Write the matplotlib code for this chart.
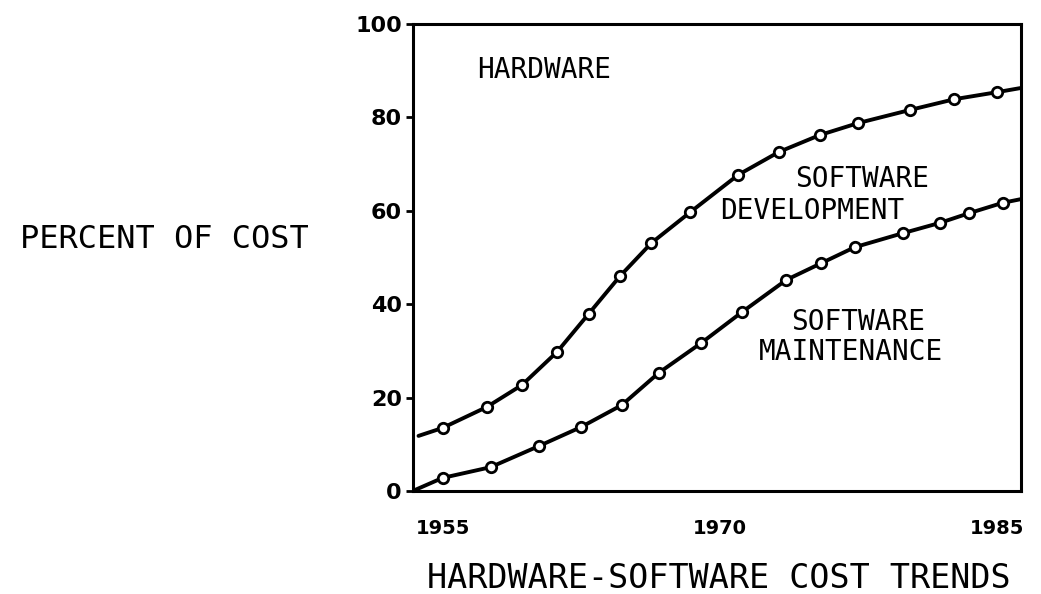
import matplotlib
matplotlib.use('Agg')
import matplotlib.pyplot as plt
import numpy as np

# values
dev_years = [1953.7, 1955.0, 1957.4, 1959.3, 1961.2, 1962.9, 1964.6, 1966.3, 1968.4,
             1971.0, 1973.2, 1975.4, 1977.5, 1980.3, 1982.7, 1985.0, 1986.3]
dev_pct = [11.8, 13.5, 18.0, 22.7, 29.8, 37.9, 46.0, 53.1, 59.7,
           67.7, 72.6, 76.2, 78.8, 81.6, 83.9, 85.4, 86.3]
dev_marked = [False] + [True] * 15 + [False]

maint_years = [1953.5, 1955.0, 1957.6, 1960.2, 1962.5, 1964.7, 1966.7, 1969.0, 1971.2,
               1973.6, 1975.5, 1977.3, 1979.9, 1981.9, 1983.5, 1985.3, 1986.3]
maint_pct = [0.2, 2.8, 5.1, 9.6, 13.7, 18.4, 25.3, 31.7, 38.3,
             45.2, 48.8, 52.2, 55.2, 57.4, 59.5, 61.7, 62.5]
maint_marked = [False] + [True] * 15 + [False]

x_ticks = [1955, 1970, 1985]
y_ticks = [0, 20, 40, 60, 80, 100]
y_tick_labels = ['0', '20', '40', '60', '80', '100']

region_labels = [
    ('HARDWARE', 1960.5, 90.1),
    ('SOFTWARE', 1977.7, 66.8),
    ('DEVELOPMENT', 1975.0, 60.0),
    ('SOFTWARE', 1977.5, 36.2),
    ('MAINTENANCE', 1977.1, 29.8),
]

mono = 'DejaVu Sans Mono'

fig = plt.figure(figsize=(10.41, 5.94), dpi=100)
ax = fig.add_axes([0.3967, 0.1734, 0.5841, 0.7862])

for xs, ys, marked in [(dev_years, dev_pct, dev_marked),
                       (maint_years, maint_pct, maint_marked)]:
    ax.plot(xs, ys, color='black', lw=2.8, solid_capstyle='round', zorder=2)
    mx = [x for x, m in zip(xs, marked) if m]
    my = [y for y, m in zip(ys, marked) if m]
    ax.plot(mx, my, ls='none', marker='o', ms=7.5, mfc='white', mec='black',
            mew=2.0, zorder=3)

ax.set_xlim(1953.4, 1986.3)
ax.set_ylim(0, 100)

ax.set_xticks(x_ticks)
ax.set_xticklabels([str(t) for t in x_ticks], fontsize=14, fontweight='bold')
ax.set_yticks(y_ticks)
ax.set_yticklabels(y_tick_labels, fontsize=16, fontweight='bold')
ax.tick_params(axis='x', length=0, pad=20)
ax.tick_params(axis='y', length=5, width=2, pad=3, direction='out')

for s in ax.spines.values():
    s.set_linewidth(2.2)

for txt, x, y in region_labels:
    ax.text(x, y, txt, family=mono, fontsize=20, ha='center', va='center')

fig.text(164 / 1041, 1 - 240 / 594, 'PERCENT OF COST', family=mono, fontsize=23,
         ha='center', va='center')
fig.text(719 / 1041, 1 - 578 / 594, 'HARDWARE-SOFTWARE COST TRENDS', family=mono,
         fontsize=24, ha='center', va='center')

fig.savefig('out.png', dpi=100)
